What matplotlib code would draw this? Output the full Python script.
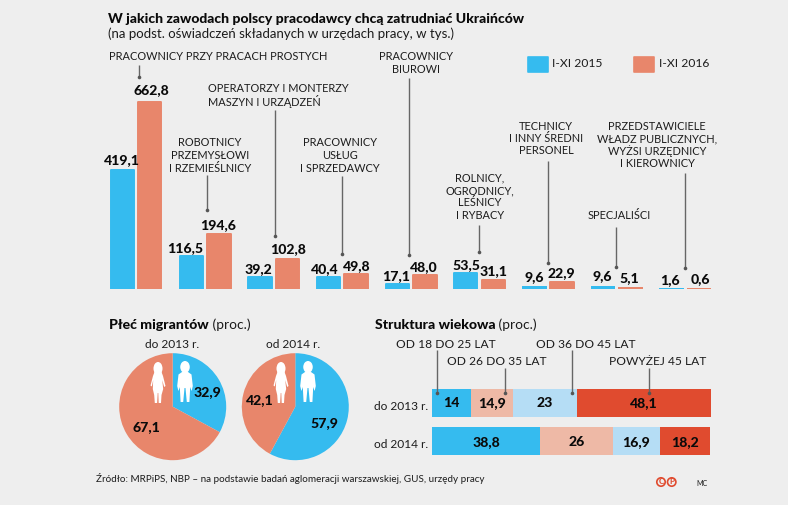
import matplotlib
matplotlib.use('Agg')
import matplotlib.pyplot as plt
from matplotlib.patches import Ellipse, Polygon, Rectangle, Circle

# dane - zawody
zawody_2015 = [419.1, 116.5, 39.2, 40.4, 17.1, 53.5, 9.6, 9.6, 1.6]
zawody_2016 = [662.8, 194.6, 102.8, 49.8, 48.0, 31.1, 22.9, 5.1, 0.6]
lata_legenda = ['I-XI 2015', 'I-XI 2016']

# dane - plec
plec_2013 = [32.9, 67.1]
plec_2014 = [57.9, 42.1]

# dane - wiek
wiek_wiersze = ['do 2013 r.', 'od 2014 r.']
wiek_2013 = [14, 14.9, 23, 48.1]
wiek_2014 = [38.8, 26, 16.9, 18.2]

NIEBIESKI = '#35BBEF'
POMARANCZ = '#E8866B'
JASNY_POM = '#EEB9A6'
JASNY_NIEB = '#B5DDF5'
CZERWONY = '#E04B2F'
TLO = '#EEEEEE'
TEKST = '#1C1C1C'
CZARNY = '#0A0A0A'
W, H = 788, 505

plt.rcParams['font.family'] = ['Lato', 'DejaVu Sans']

fig = plt.figure(figsize=(W / 100, H / 100), dpi=100, facecolor=TLO)


def osie_px(x0, y0, x1, y1):
    ax = fig.add_axes([x0 / W, 1 - y1 / H, (x1 - x0) / W, (y1 - y0) / H])
    ax.set_axis_off()
    return ax


def liczba(v):
    return f'{v:.1f}'.replace('.', ',')


# slupki - os x w pikselach, os y w tys.
skala = 187 / 662.8
ax_bar = osie_px(100, 60, 720, 288.5)
ax_bar.set_xlim(100, 720)
ax_bar.set_ylim(0, 228.5 / skala)
start_grupy = [110, 179, 247.7, 316, 385, 453.3, 522, 590.7, 659]
szer = 24.5
for x0, a, b in zip(start_grupy, zawody_2015, zawody_2016):
    for x, v, kolor in [(x0 + szer / 2, a, NIEBIESKI), (x0 + 27.7 + szer / 2, b, POMARANCZ)]:
        lw = 1.4 if v > 12 else 0
        bar = ax_bar.bar(x, v, width=szer - lw, color=kolor, edgecolor=kolor, linewidth=lw)[0]
        bar.set_joinstyle('round')

# warstwa na teksty i linie w pikselach
nak = osie_px(0, 0, W, H)
nak.set_xlim(0, W)
nak.set_ylim(H, 0)
nak.set_zorder(5)


def napis(x, y, s, size=7.95, ha='center', weight='normal', color=TEKST):
    return nak.text(x, y, s, fontsize=size, ha=ha, va='center', fontweight=weight, color=color)


def linia(x, y0, y1):
    nak.plot([x, x], [y0, y1], color='#666666', lw=1.0, solid_capstyle='butt')
    nak.plot([x], [y1], 'o', color='#555555', ms=2.6, mew=0)


def blok(x, ys, linie, ha='center'):
    for y, s in zip(ys, linie):
        napis(x, y, s, ha=ha)


# tytul
napis(107.7, 19, 'W jakich zawodach polscy pracodawcy chcą zatrudniać Ukraińców', size=10.07, ha='left', weight='black', color=CZARNY)
napis(107.7, 34, '(na podst. oświadczeń składanych w urzędach pracy, w tys.)', size=9.55, ha='left')

# podpisy grup
napis(109, 57, 'PRACOWNICY PRZY PRACACH PROSTYCH', ha='left')
blok(210, [143, 155.5, 168], ['ROBOTNICY', 'PRZEMYSŁOWI', 'I RZEMIEŚLNICY'])
blok(208, [88.7, 101], ['OPERATORZY I MONTERZY', 'MASZYN I URZĄDZEŃ'], ha='left')
blok(340, [143, 155.5, 168], ['PRACOWNICY', 'USŁUG', 'I SPRZEDAWCY'])
blok(416, [57, 69.7], ['PRACOWNICY', 'BIUROWI'])
blok(480, [178, 190.5, 203, 215.5], ['ROLNICY,', 'OGRODNICY,', 'LEŚNICY', 'I RYBACY'])
blok(546, [126, 138.5, 151], ['TECHNICY', 'I INNY ŚREDNI', 'PERSONEL'])
blok(619, [215.7], ['SPECJALIŚCI'])
blok(657, [126, 138.5, 151, 163.5], ['PRZEDSTAWICIELE', 'WŁADZ PUBLICZNYCH,', 'WYŻSI URZĘDNICY', 'I KIEROWNICY'])

# linie prowadzace
for x, y0, y1 in [(139, 65, 77), (207, 175, 210), (275.3, 110, 236), (342, 176, 254), (409.3, 78, 255),
                  (479.3, 225, 252), (548, 160.7, 262.7), (615.7, 226.7, 267), (684.7, 172.7, 268)]:
    linia(x, y0, y1)

# wartosci nad slupkami
poz_2015 = [(121.7, 160), (185, 248), (258, 269), (325, 269), (396, 276.5), (466, 265), (534, 277), (602, 276), (670, 280)]
poz_2016 = [(151, 90), (218.5, 224.7), (288.5, 249.5), (356.7, 265.7), (424, 266.7), (493.3, 270.7), (561.7, 272.7), (629, 277.7), (700, 279)]
for (x, y), v in zip(poz_2015 + poz_2016, zawody_2015 + zawody_2016):
    napis(x, y, liczba(v), size=10.1, weight='black', color=CZARNY)

# legenda
for x, kolor, s in [(527.3, NIEBIESKI, lata_legenda[0]), (634, POMARANCZ, lata_legenda[1])]:
    nak.add_patch(Rectangle((x + 0.5, 56.5), 20, 15, fc=kolor, ec=kolor, lw=1.2, joinstyle='round'))
    napis(x + 24.7, 63.5, s, size=8.7, ha='left')


# naglowki z dopiskiem
def naglowek(x, y, s):
    t = napis(x, y, s, size=10.2, ha='left', weight='black', color=CZARNY)
    nak.annotate(' (proc.)', xy=(1, 0.5), xycoords=t, va='center', fontsize=9.9, color=TEKST)


naglowek(109, 325, 'Płeć migrantów')
naglowek(374.7, 325, 'Struktura wiekowa')

# kola
for cx, wart in [(172.7, plec_2013), (295.3, plec_2014)]:
    r = 53.5
    ax_p = osie_px(cx - r, 406.7 - r, cx + r, 406.7 + r)
    ax_p.pie(wart, colors=[NIEBIESKI, POMARANCZ], startangle=90, counterclock=False, radius=1)
    ax_p.set_xlim(-1, 1)
    ax_p.set_ylim(-1, 1)

napis(172, 344, 'do 2013 r.', size=8.6)
napis(293.3, 344, 'od 2014 r.', size=8.6)
napis(207.7, 392, liczba(plec_2013[0]), size=10.1, weight='black', color=CZARNY)
napis(146.7, 426.7, liczba(plec_2013[1]), size=10.1, weight='black', color=CZARNY)
napis(324.7, 422.7, liczba(plec_2014[0]), size=10.1, weight='black', color=CZARNY)
napis(260, 400, liczba(plec_2014[1]), size=10.1, weight='black', color=CZARNY)


# sylwetki
def kobieta(cx, top):
    nak.add_patch(Ellipse((cx, top + 6.5), 9, 13, fc='white', ec='none'))
    pkt = [(-3.5, 10), (3.5, 10), (5, 14), (7.5, 24), (6.2, 25), (4.2, 18), (5.2, 27), (3.5, 33), (3, 41), (0.7, 41), (0.3, 31),
           (-0.3, 31), (-0.9, 41), (-3.2, 41), (-3.8, 33), (-5.2, 27), (-4.8, 18), (-6.2, 24.5), (-7.5, 23.5), (-5, 14)]
    nak.add_patch(Polygon([(cx + a, top + b) for a, b in pkt], fc='white', ec='none'))


def mezczyzna(cx, top):
    nak.add_patch(Ellipse((cx, top + 6), 9.5, 12, fc='white', ec='none'))
    pkt = [(-3, 11), (3, 11), (6.5, 13.5), (7.8, 25), (6.6, 30), (5, 26), (5, 30), (4.4, 41), (1.8, 41), (0.5, 27),
           (-0.5, 27), (-1.8, 41), (-4.4, 41), (-5, 30), (-5, 26), (-6.6, 30), (-7.8, 25), (-6.5, 13.5)]
    nak.add_patch(Polygon([(cx + a, top + b) for a, b in pkt], fc='white', ec='none'))


kobieta(158, 362)
mezczyzna(185, 361)
kobieta(281, 362)
mezczyzna(308, 361)

# struktura wiekowa
ax_w = osie_px(432, 389, 710.7, 455)
ax_w.set_xlim(0, 100)
ax_w.set_ylim(66, 0)
kolory_w = [NIEBIESKI, JASNY_POM, JASNY_NIEB, CZERWONY]
for y, wart, wiersz, yt in zip([13.85, 52.15], [wiek_2013, wiek_2014], wiek_wiersze, [406, 445]):
    lewo = 0
    for v, kolor in zip(wart, kolory_w):
        ax_w.barh(y, v, left=lewo, height=27.7, color=kolor, linewidth=0)
        s = liczba(v) if v != int(v) else str(int(v))
        ax_w.text(lewo + v / 2, y + 0.5, s, ha='center', va='center', fontsize=10.1, fontweight='black', color=CZARNY)
        lewo += v
    napis(428, yt, wiersz, size=8.6, ha='right')

for x, y, s in [(395.7, 344, 'OD 18 DO 25 LAT'), (447.3, 361.7, 'OD 26 DO 35 LAT'),
                (536, 344, 'OD 36 DO 45 LAT'), (609.3, 361.7, 'POWYŻEJ 45 LAT')]:
    napis(x, y, s, size=8.65, ha='left')
for x, y0 in [(437, 350), (505, 368), (571.7, 350), (649, 368)]:
    linia(x, y0, 393)

# stopka
napis(95.7, 479, 'Źródło: MRPiPS, NBP – na podstawie badań aglomeracji warszawskiej, GUS, urzędy pracy', size=7.15, ha='left')
for x, s in [(661, 'C'), (671.7, 'P')]:
    nak.add_patch(Circle((x, 482), 4.2, fc='none', ec=CZERWONY, lw=1.2))
    napis(x, 482, s, size=5.8, weight='black', color=CZERWONY)
napis(696, 483, 'MC', size=5, ha='left')

fig.savefig('out.png', dpi=100, facecolor=TLO)
